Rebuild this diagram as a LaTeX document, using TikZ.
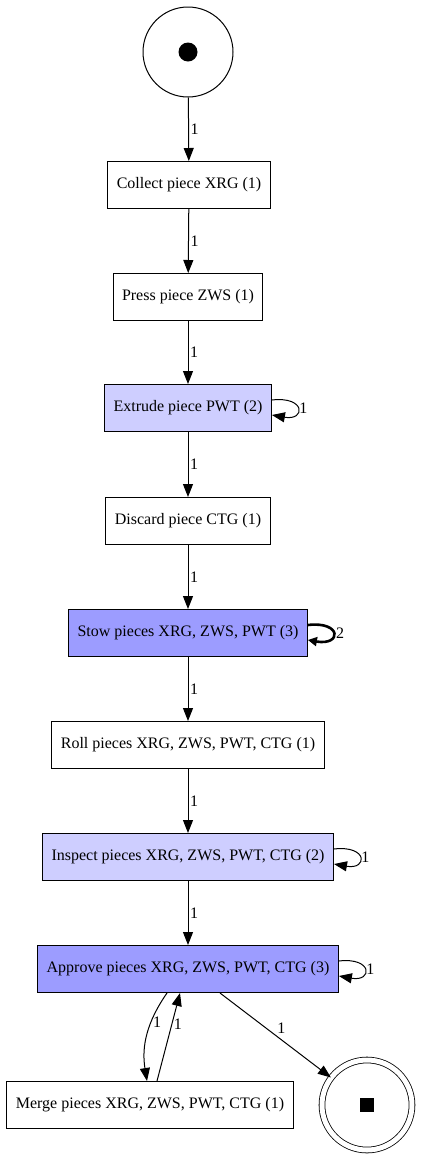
\documentclass[tikz,border=0pt]{standalone}
\usepackage{fontspec}
\setmainfont{Liberation Serif}
\usetikzlibrary{arrows.meta}
\definecolor{lightviolet}{RGB}{206,206,255}
\definecolor{darkviolet}{RGB}{156,156,255}

\begin{document}
\begin{tikzpicture}[x=1pt, y=-1pt, line width=1pt, >={Triangle[length=13pt,width=10pt]},
    every node/.style={font=\fontsize{16}{18}\selectfont},
    task/.style={draw, minimum height=47pt, inner xsep=9pt},
    lbl/.style={font=\fontsize{16}{18}\selectfont, inner sep=1.5pt}]

    \useasboundingbox (0,0) rectangle (422,1160);

    % === start and end places ===
    \node[draw,circle,minimum size=90pt] (start) at (188,52) {};
    \fill (start.center) circle (9.5pt);

    % === tasks, top to bottom ===
    \node[task] (collect) at (189,185) {Collect piece XRG (1)};
    \node[task] (press) at (188,297) {Press piece ZWS (1)};
    \node[task,fill=lightviolet] (extrude) at (188,408) {Extrude piece PWT (2)};
    \node[task] (discard) at (188,521) {Discard piece CTG (1)};
    \node[task,fill=darkviolet] (stow) at (188,633) {Stow pieces XRG, ZWS, PWT (3)};
    \node[task] (roll) at (188,745) {Roll pieces XRG, ZWS, PWT, CTG (1)};
    \node[task,fill=lightviolet] (inspect) at (188,857) {Inspect pieces XRG, ZWS, PWT, CTG (2)};
    \node[task,fill=darkviolet] (approve) at (188,969) {Approve pieces XRG, ZWS, PWT, CTG (3)};
    \node[task] (merge) at (150,1105) {Merge pieces XRG, ZWS, PWT, CTG (1)};

    \node[draw,circle,minimum size=90pt,double,line width=0.8pt,double distance=5pt] (end) at (367,1105) {};
    \fill ([shift={(-7,-7)}]end.center) rectangle ([shift={(7,7)}]end.center);

    % === straight arcs ===
    \draw[->] (start) -- node[lbl,right] {1} (collect);
    \draw[->] (collect) -- node[lbl,right] {1} (press);
    \draw[->] (press) -- node[lbl,right] {1} (extrude);
    \draw[->] (extrude) -- node[lbl,right] {1} (discard);
    \draw[->] (discard) -- node[lbl,right] {1} (stow);
    \draw[->] (stow) -- node[lbl,right] {1} (roll);
    \draw[->] (roll) -- node[lbl,right] {1} (inspect);
    \draw[->] (inspect) -- node[lbl,right] {1} (approve);

    % === self loops ===
    \draw[->] ([yshift=8pt]extrude.east) .. controls +(34,-4) and +(34,6) .. ([yshift=-7pt]extrude.east) node[lbl,right,pos=0.5] {1};
    \draw[-{Triangle[length=9pt,width=9pt]},line width=2.6pt] ([yshift=8pt]stow.east) .. controls +(34,-4) and +(34,6) .. ([yshift=-7pt]stow.east) node[lbl,right,pos=0.5] {2};
    \draw[->] ([yshift=8pt]inspect.east) .. controls +(34,-4) and +(34,6) .. ([yshift=-7pt]inspect.east) node[lbl,right,pos=0.5] {1};
    \draw[->] ([yshift=8pt]approve.east) .. controls +(34,-4) and +(34,6) .. ([yshift=-7pt]approve.east) node[lbl,right,pos=0.5] {1};

    % === bottom arcs ===
    \draw[->] ([xshift=-21pt]approve.south) to[bend right=22] node[lbl,right,pos=0.35] {1} ([xshift=-3pt]merge.north);
    \draw[->] ([xshift=7pt]merge.north) -- node[lbl,right,pos=0.65] {1} ([xshift=-8pt]approve.south);
    \draw[->] ([xshift=32pt]approve.south) -- node[lbl,above right,pos=0.5] {1} (end);
\end{tikzpicture}
\end{document}
